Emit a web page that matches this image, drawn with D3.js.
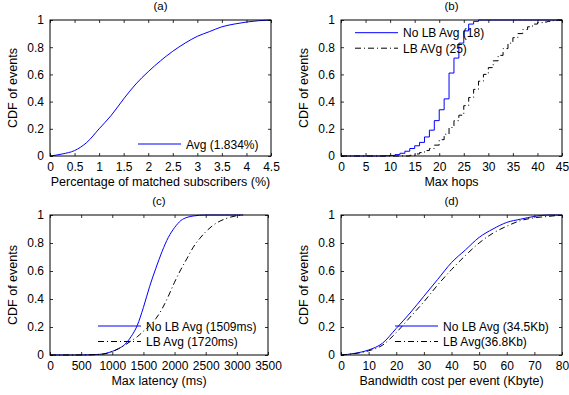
<!DOCTYPE html>
<html>
<head>
<meta charset="utf-8">
<script src="https://cdn.jsdelivr.net/npm/d3@7"></script>
<style>
  body { margin: 0; background: #fff; }
  svg text { font-family: "Liberation Sans", Arial, Helvetica, sans-serif; fill: #000; }
</style>
</head>
<body>
<div id="chart"></div>
<script>
// (a) percentage of matched subscribers
const pctX = [0, 0.25, 0.5, 0.75, 1, 1.25, 1.5, 1.75, 2, 2.25, 2.5, 2.75, 3, 3.25, 3.5, 3.75, 4, 4.25, 4.5];
const pctCdf = [0, 0.015, 0.04, 0.1, 0.2, 0.3, 0.42, 0.53, 0.62, 0.7, 0.77, 0.83, 0.88, 0.915, 0.95, 0.97, 0.985, 0.995, 1];

// (b) max hops (step CDFs)
const hops = d3.range(0, 46);
const hopsNoLb = [0, 0, 0, 0, 0, 0, 0, 0, 0, 0.002, 0.004, 0.01, 0.02, 0.035, 0.055, 0.075, 0.1, 0.14, 0.19, 0.26,
  0.34, 0.42, 0.61, 0.72, 0.83, 0.92, 0.97, 0.99, 1, 1, 1, 1, 1, 1, 1, 1, 1, 1, 1, 1, 1, 1, 1, 1, 1, 1];
const hopsLb = [0, 0, 0, 0, 0, 0, 0, 0, 0, 0, 0, 0, 0, 0, 0.005, 0.015, 0.025, 0.04, 0.055, 0.08,
  0.12, 0.16, 0.21, 0.26, 0.3, 0.37, 0.43, 0.49, 0.55, 0.6, 0.65, 0.7, 0.74, 0.79, 0.83, 0.87,
  0.9, 0.93, 0.95, 0.97, 0.98, 0.985, 0.99, 0.995, 1, 1];

// (c) max latency (ms)
const latX = [0, 400, 600, 800, 900, 1000, 1100, 1200, 1300, 1400, 1500, 1600, 1700, 1800, 1900, 2000, 2100, 2200, 2300, 2400, 2500, 2600, 2700, 2800, 2900, 3000, 3100];
const latNoLb = [0, 0, 0.001, 0.005, 0.012, 0.026, 0.045, 0.075, 0.13, 0.21, 0.34, 0.49, 0.62, 0.74, 0.84, 0.91, 0.96, 0.983, 0.993, 0.998, 1, 1, 1, 1, 1, 1, 1];
const latLb = [0, 0, 0.001, 0.004, 0.01, 0.025, 0.045, 0.07, 0.1, 0.13, 0.17, 0.21, 0.26, 0.33, 0.42, 0.52, 0.61, 0.69, 0.77, 0.83, 0.88, 0.92, 0.95, 0.97, 0.985, 0.995, 1];

// (d) bandwidth cost per event (Kbyte)
const bwX = [0, 5, 10, 15, 20, 25, 30, 35, 40, 45, 50, 55, 60, 65, 70, 75, 80];
const bwNoLb = [0, 0.012, 0.036, 0.084, 0.19, 0.3, 0.42, 0.54, 0.66, 0.75, 0.84, 0.9, 0.947, 0.97, 0.99, 1, 1];
const bwLb = [0, 0.01, 0.03, 0.07, 0.16, 0.27, 0.38, 0.5, 0.61, 0.71, 0.8, 0.87, 0.92, 0.96, 0.98, 0.99, 1];

const yTicks = [0, 0.2, 0.4, 0.6, 0.8, 1];

const width = 569, height = 395;
const svg = d3.select('#chart').append('svg')
  .attr('width', width)
  .attr('height', height);

const BLUE = '#0000ff';
const DASHDOT = '6,3,1,3';
const FS = '12px';

const panels = [
  {
    title: '(a)', xlabel: 'Percentage of matched subscribers (%)',
    box: {x0: 50, x1: 271, y0: 20, y1: 156},
    xDomain: [0, 4.5], xTicks: d3.range(0, 4.51, 0.5),
    series: [{x: pctX, y: pctCdf, color: BLUE, dash: null, name: 'Avg (1.834%)'}],
    legend: {x: 88, y: 124}
  },
  {
    title: '(b)', xlabel: 'Max hops',
    box: {x0: 341, x1: 562, y0: 20, y1: 156},
    xDomain: [0, 45], xTicks: d3.range(0, 46, 5), step: true,
    series: [
      {x: hops, y: hopsNoLb, color: BLUE, dash: null, name: 'No LB Avg (18)'},
      {x: hops, y: hopsLb, color: '#000', dash: DASHDOT, name: 'LB AVg (25)'}
    ],
    legend: {x: 14, y: 12.7}
  },
  {
    title: '(c)', xlabel: 'Max latency (ms)',
    box: {x0: 50, x1: 268, y0: 215, y1: 355},
    xDomain: [0, 3500], xTicks: d3.range(0, 3501, 500),
    series: [
      {x: latX, y: latNoLb, color: BLUE, dash: null, name: 'No LB Avg (1509ms)'},
      {x: latX, y: latLb, color: '#000', dash: DASHDOT, name: 'LB Avg (1720ms)'}
    ],
    legend: {x: 48, y: 111}
  },
  {
    title: '(d)', xlabel: 'Bandwidth cost per event (Kbyte)',
    box: {x0: 341, x1: 562, y0: 215, y1: 355},
    xDomain: [0, 80], xTicks: d3.range(0, 81, 10),
    series: [
      {x: bwX, y: bwNoLb, color: BLUE, dash: null, name: 'No LB Avg (34.5Kb)'},
      {x: bwX, y: bwLb, color: '#000', dash: DASHDOT, name: 'LB Avg(36.8Kb)'}
    ],
    legend: {x: 54, y: 111}
  }
];

panels.forEach(p => {
  const b = p.box;
  const w = b.x1 - b.x0, h = b.y1 - b.y0;
  const g = svg.append('g').attr('transform', `translate(${b.x0},${b.y0})`);

  const x = d3.scaleLinear().domain(p.xDomain).range([0, w]);
  const y = d3.scaleLinear().domain([0, 1]).range([h, 0]);

  // data lines
  p.series.forEach(s => {
    const line = d3.line()
      .x(d => x(d[0]))
      .y(d => y(d[1]))
      .curve(p.step ? d3.curveStepAfter : d3.curveMonotoneX);
    g.append('path')
      .attr('d', line(d3.zip(s.x, s.y)))
      .attr('fill', 'none')
      .attr('stroke', s.color)
      .attr('stroke-width', 1)
      .attr('stroke-dasharray', s.dash);
  });

  // axes with inward ticks on all four sides
  const fmt = d3.format('~g');
  const xAxis = d3.axisBottom(x).tickValues(p.xTicks).tickSizeInner(-3).tickSizeOuter(0).tickPadding(6).tickFormat(fmt);
  const yAxis = d3.axisLeft(y).tickValues(yTicks).tickSizeInner(-3).tickSizeOuter(0).tickPadding(6).tickFormat(fmt);

  const gx = g.append('g').attr('transform', `translate(0,${h})`).call(xAxis);
  const gy = g.append('g').call(yAxis);
  g.append('g').call(d3.axisTop(x).tickValues(p.xTicks).tickSizeInner(-3).tickSizeOuter(0).tickFormat(''));
  g.append('g').attr('transform', `translate(${w},0)`)
    .call(d3.axisRight(y).tickValues(yTicks).tickSizeInner(-3).tickSizeOuter(0).tickFormat(''));

  g.selectAll('.domain').remove();
  g.selectAll('.tick line').attr('stroke', '#000').attr('stroke-width', 0.8);
  gx.selectAll('text').style('font-size', FS).attr('dy', '0.72em');
  gy.selectAll('text').style('font-size', FS);

  g.append('rect')
    .attr('width', w).attr('height', h)
    .attr('fill', 'none').attr('stroke', '#000').attr('stroke-width', 1);

  // labels
  g.append('text').attr('x', w / 2).attr('y', -10)
    .attr('text-anchor', 'middle').style('font-size', '11.5px').text(p.title);
  g.append('text').attr('x', w / 2).attr('y', h + 30)
    .attr('text-anchor', 'middle').style('font-size', '12.5px').text(p.xlabel);
  g.append('text')
    .attr('transform', `translate(-33,${h / 2}) rotate(-90)`)
    .attr('text-anchor', 'middle').style('font-size', '12.5px').text('CDF of events');

  // legend (no box)
  p.series.forEach((s, i) => {
    const ly = p.legend.y + i * 15.5;
    g.append('line')
      .attr('x1', p.legend.x).attr('x2', p.legend.x + 43)
      .attr('y1', ly).attr('y2', ly)
      .attr('stroke', s.color).attr('stroke-width', 1)
      .attr('stroke-dasharray', s.dash);
    g.append('text')
      .attr('x', p.legend.x + 48).attr('y', ly + 4.5)
      .style('font-size', FS).text(s.name);
  });
});
</script>
</body>
</html>
